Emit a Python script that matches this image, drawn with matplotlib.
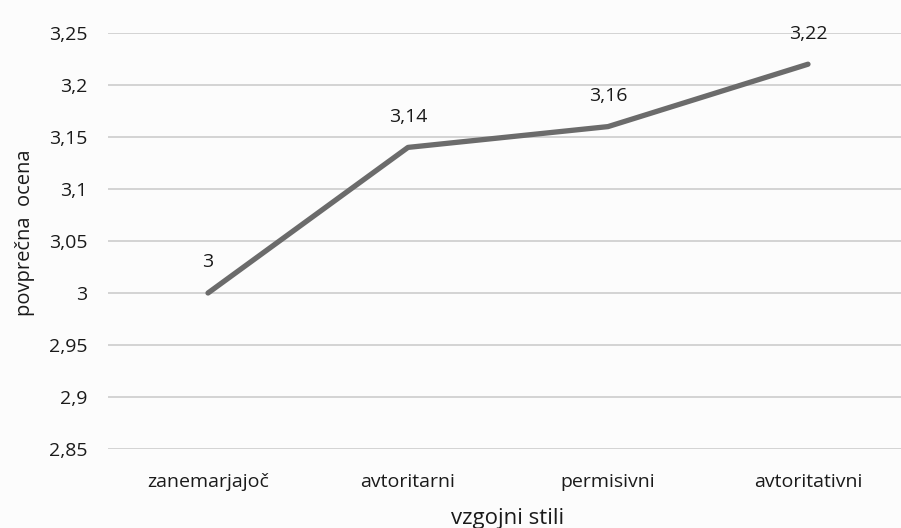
import matplotlib.pyplot as plt
from matplotlib.ticker import FuncFormatter, MultipleLocator

# data
categories = ['zanemarjajoč', 'avtoritarni', 'permisivni', 'avtoritativni']
values = [3.00, 3.14, 3.16, 3.22]
value_labels = ['3', '3,14', '3,16', '3,22']

plt.rcParams['font.family'] = ['Open Sans', 'DejaVu Sans']

fig = plt.figure(figsize=(9.01, 5.28), dpi=100, facecolor='#fcfcfc')
ax = fig.add_axes([108 / 901, 79 / 528, 800 / 901, 416 / 528])
ax.set_facecolor('#fcfcfc')

x = range(len(categories))
ax.plot(x, values, color='#6b6b6b', linewidth=3.8, solid_capstyle='round', zorder=3)

for xi, v, lab in zip(x, values, value_labels):
    ax.annotate(lab, (xi, v), xytext=(0, 22), textcoords='offset points',
                ha='center', va='center', fontsize=14, color='#1a1a1a')

ax.set_xlim(-0.5, 3.5)
ax.set_ylim(2.85, 3.25)
ax.yaxis.set_major_locator(MultipleLocator(0.05))
ax.yaxis.set_major_formatter(FuncFormatter(lambda v, p: f'{v:.2f}'.rstrip('0').rstrip('.').replace('.', ',')))
ax.set_xticks(list(x))
ax.set_xticklabels(categories)

ax.grid(axis='y', color='#d0d0d0', linewidth=1.3)
ax.set_axisbelow(True)
for s in ax.spines.values():
    s.set_visible(False)
ax.tick_params(axis='both', length=0, labelsize=14, colors='#1a1a1a')
ax.tick_params(axis='y', pad=15)
ax.tick_params(axis='x', pad=17)

ax.set_ylabel('povprečna  ocena', fontsize=14.5, color='#1a1a1a')
ax.set_xlabel('vzgojni stili', fontsize=16, color='#1a1a1a')
ax.yaxis.set_label_coords(-73 / 800, 0.52)
ax.xaxis.set_label_coords(0.5, -59 / 416)

fig.savefig('out.png', dpi=100, facecolor=fig.get_facecolor())
